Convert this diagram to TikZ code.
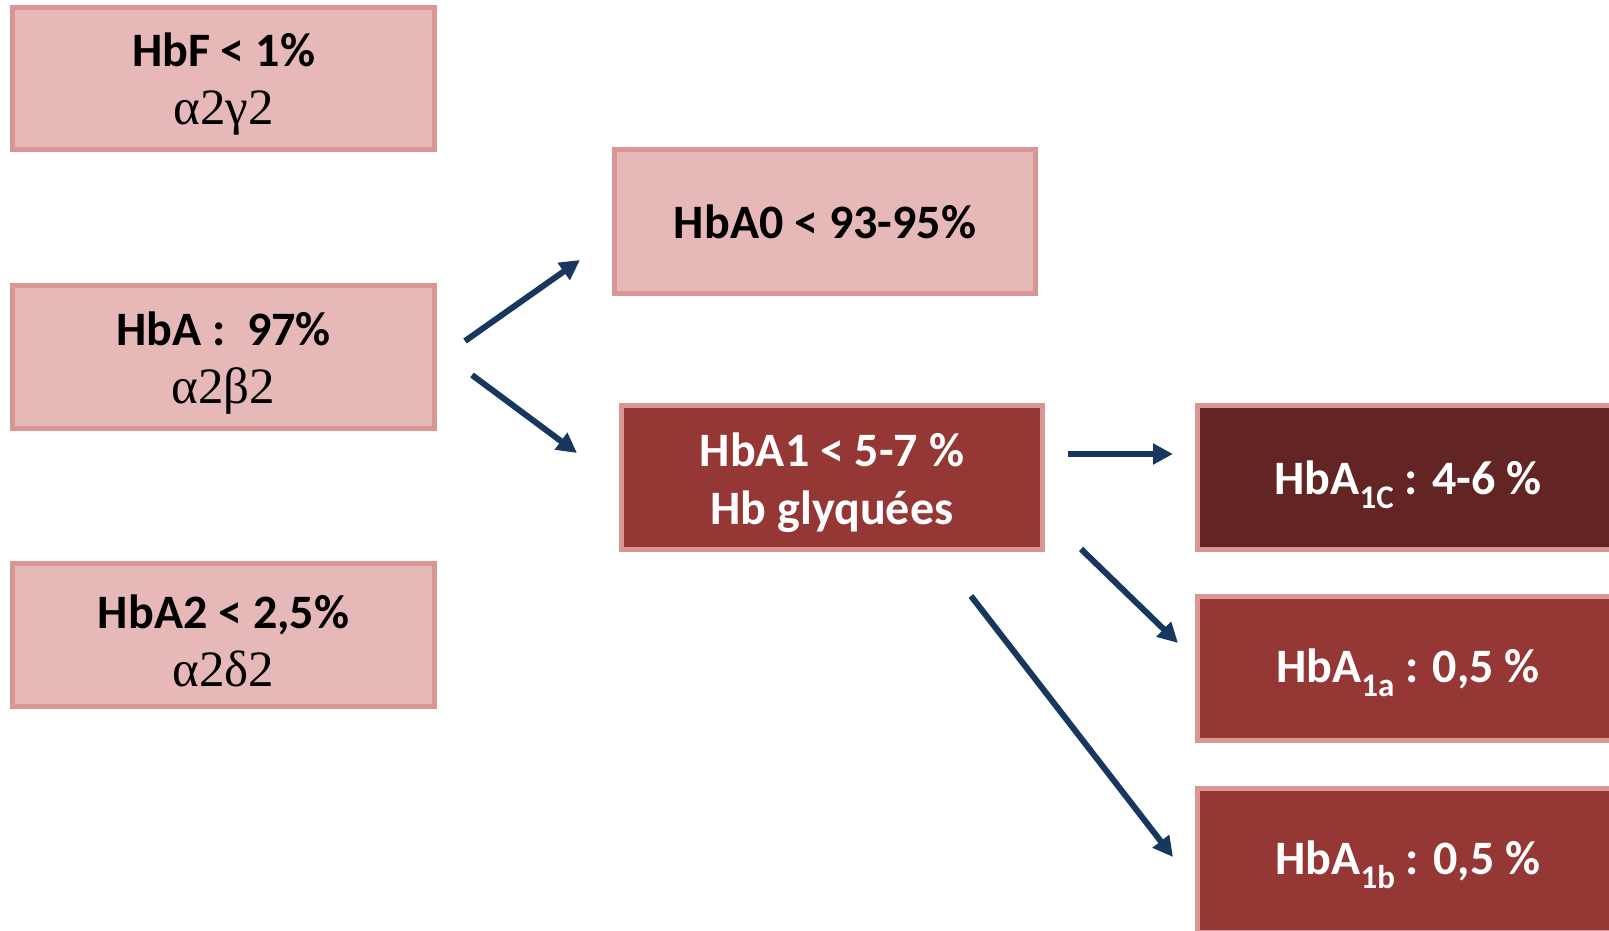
\documentclass[tikz,border=0pt]{standalone}
\usepackage{fontspec}
\setmainfont{Carlito}
\newfontfamily\grk{Liberation Serif}
\usetikzlibrary{arrows.meta}
\definecolor{lightfill}{HTML}{E6B8B7}
\definecolor{pinkline}{HTML}{D99694}
\definecolor{redfill}{HTML}{953735}
\definecolor{darkfill}{HTML}{632523}
\definecolor{arrowblue}{HTML}{17375E}
\newcommand{\sbs}[1]{\raisebox{-0.3em}[0pt][0pt]{\fontsize{33}{33}\selectfont #1}}
\newcommand{\grline}[1]{{\grk\mdseries\fontsize{51}{58}\selectfont #1}}
\newcommand{\topstrut}{\rule{0pt}{45pt}}
\tikzset{
  box/.style={draw=pinkline, line width=5pt, rectangle, inner sep=0pt, align=center,
    minimum width=421pt, minimum height=144pt,
    font=\fontsize{48}{58}\selectfont\bfseries},
  lightbox/.style={box, fill=lightfill, text=black},
  redbox/.style={box, fill=redfill, text=white},
  darkbox/.style={box, fill=darkfill, text=white},
  arr/.style={draw=arrowblue, line width=6pt, -{Triangle[length=20pt,width=20pt]}}
}
\begin{document}
\begin{tikzpicture}[x=1pt,y=-1pt]
\useasboundingbox (0,0) rectangle (1609,930);
\clip (0,0) rectangle (1609,930);
\node[lightbox, minimum width=422pt, minimum height=142pt] (hbf) at (223.5,78.5)
  {\topstrut HbF < 1\%\\\grline{α2γ2}};
\node[lightbox, minimum width=422pt, minimum height=143pt] (hba) at (223.5,357)
  {\topstrut HbA :\ \ 97\%\\\grline{α2β2}};
\node[lightbox, minimum width=422pt, minimum height=143pt] (hba2) at (223.5,635)
  {\topstrut HbA2 < 2,5\%\\\grline{α2δ2}};
\node[lightbox] (hba0) at (825,221.5)
  {HbA0 < 93-95\%};
\node[redbox] (hba1) at (832,477.5)
  {\topstrut HbA1 < 5-7 \%\\Hb glyquées};
\node[darkbox] (hba1c) at (1408,477.5)
  {HbA\sbs{1C} : 4-6 \%};
\node[redbox] (hba1a) at (1408,668.5)
  {HbA\sbs{1a} : 0,5 \%};
\node[redbox] (hba1b) at (1408,860.5)
  {HbA\sbs{1b} : 0,5 \%};
\coordinate (a1s) at (465,341);
\coordinate (a1e) at (580,260);
\coordinate (a2s) at (472,375);
\coordinate (a2e) at (577,453);
\coordinate (a3s) at (1068,454);
\coordinate (a3e) at (1173,454);
\coordinate (a4s) at (1081,549);
\coordinate (a4e) at (1178,643);
\coordinate (a5s) at (971,596);
\coordinate (a5e) at (1173,857);
\draw[arr] (a1s) -- (a1e);
\draw[arr] (a2s) -- (a2e);
\draw[arr] (a3s) -- (a3e);
\draw[arr] (a4s) -- (a4e);
\draw[arr] (a5s) -- (a5e);
\end{tikzpicture}
\end{document}
